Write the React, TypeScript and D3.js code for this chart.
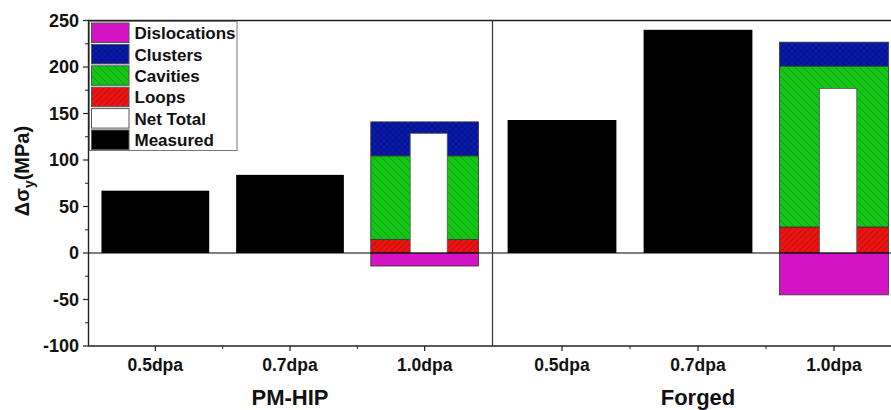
import React from "react";
import * as d3 from "d3";

const groupNames = ["PM-HIP", "Forged"];
const dpaLabels = ["0.5dpa", "0.7dpa", "1.0dpa"];
const measuredPMHIP = [67, 84];
const measuredForged = [143, 240];
// contributions at 1.0dpa: [PM-HIP, Forged]
const loops = [14.5, 28];
const cavities = [90, 173];
const clusters = [36.5, 25.7];
const dislocations = [-14, -45];
const netTotal = [128.7, 177];
const yTicks = [-100, -50, 0, 50, 100, 150, 200, 250];
const legendItems = ["Dislocations", "Clusters", "Cavities", "Loops", "Net Total", "Measured"];

const W = 891, H = 410;
const FONT = "'Liberation Sans', Arial, sans-serif";

export default function App() {
  const y = d3.scaleLinear().domain([-100, 250]).range([346, 20.5]);
  const xs = [
    d3.scaleLinear().domain([0.5, 3.5]).range([88, 492]),
    d3.scaleLinear().domain([0.5, 3.5]).range([494, 902]),
  ];
  const measured = [measuredPMHIP, measuredForged];
  const fills: Record<string, string> = {
    Dislocations: "url(#pDis)",
    Clusters: "url(#pClu)",
    Cavities: "url(#pCav)",
    Loops: "url(#pLoop)",
    "Net Total": "#ffffff",
    Measured: "#000000",
  };
  const bw = 0.8;
  const nw = 0.275;
  const minorY = d3.range(-100, 251, 25).filter((v) => v % 50 !== 0);

  const bars: JSX.Element[] = [];
  groupNames.forEach((g, gi) => {
    const x = xs[gi];
    measured[gi].forEach((v, i) => {
      const c = i + 1;
      bars.push(
        <rect key={`m${gi}${i}`} x={x(c - bw / 2)} y={y(v)} width={x(c + bw / 2) - x(c - bw / 2)} height={y(0) - y(v)} fill="#000" />
      );
    });
    const c = 3;
    const x0 = x(c - bw / 2), x1 = x(c + bw / 2);
    const segs: [string, number, number][] = [
      ["Loops", 0, loops[gi]],
      ["Cavities", loops[gi], loops[gi] + cavities[gi]],
      ["Clusters", loops[gi] + cavities[gi], loops[gi] + cavities[gi] + clusters[gi]],
      ["Dislocations", dislocations[gi], 0],
    ];
    segs.forEach(([name, a, b]) => {
      bars.push(
        <rect key={`s${gi}${name}`} x={x0} y={y(b)} width={x1 - x0} height={y(a) - y(b)} fill={fills[name]} stroke="#333" strokeWidth={0.8} />
      );
    });
    const nc = c + 0.03;
    bars.push(
      <rect key={`n${gi}`} x={x(nc - nw / 2)} y={y(netTotal[gi])} width={x(nc + nw / 2) - x(nc - nw / 2)} height={y(0) - y(netTotal[gi])} fill="#fff" stroke="#555" strokeWidth={0.8} />
    );
  });

  return (
    <svg width={W} height={H} style={{ position: "absolute", left: 0, top: 0, background: "#fff" }} fontFamily={FONT}>
      <defs>
        <pattern id="pDis" width="6" height="6" patternUnits="userSpaceOnUse">
          <rect width="6" height="6" fill="#d414c4" />
        </pattern>
        <pattern id="pClu" width="6" height="6" patternUnits="userSpaceOnUse">
          <rect width="6" height="6" fill="#0a1aa8" />
          <path d="M0,0 L6,6 M6,0 L0,6" stroke="#06107a" strokeWidth="0.7" />
        </pattern>
        <pattern id="pCav" width="8" height="8" patternUnits="userSpaceOnUse">
          <rect width="8" height="8" fill="#14c416" />
          <path d="M0,0 L8,8 M-1,7 L1,9 M7,-1 L9,1" stroke="#0c900e" strokeWidth="0.7" />
        </pattern>
        <pattern id="pLoop" width="6" height="6" patternUnits="userSpaceOnUse">
          <rect width="6" height="6" fill="#e81414" />
          <path d="M0,6 L6,0 M-1,1 L1,-1 M5,7 L7,5" stroke="#b00a0a" strokeWidth="0.7" />
        </pattern>
      </defs>

      {bars}

      {/* zero line */}
      <line x1={88} x2={W} y1={y(0)} y2={y(0)} stroke="#000" strokeWidth={1.2} />

      {/* frame */}
      <line x1={88} x2={W} y1={y(250)} y2={y(250)} stroke="#222" strokeWidth={1.6} />
      <line x1={88} x2={W} y1={y(-100)} y2={y(-100)} stroke="#222" strokeWidth={1.6} />
      <line x1={88.5} x2={88.5} y1={y(250)} y2={y(-100)} stroke="#222" strokeWidth={1.4} />
      <line x1={492.5} x2={492.5} y1={y(250)} y2={y(-100)} stroke="#333" strokeWidth={1.2} />

      {/* y ticks */}
      {yTicks.map((t) => (
        <g key={`yt${t}`}>
          <line x1={83} x2={88} y1={y(t)} y2={y(t)} stroke="#222" strokeWidth={1.2} />
          <text x={79} y={y(t)} dy="0.36em" textAnchor="end" fontSize={18} fontWeight="bold" fill="#111">{t}</text>
        </g>
      ))}
      {minorY.map((t) => (
        <line key={`ym${t}`} x1={85} x2={88} y1={y(t)} y2={y(t)} stroke="#222" strokeWidth={1} />
      ))}

      {/* x ticks and labels */}
      {groupNames.map((g, gi) => {
        const x = xs[gi];
        return (
          <g key={`xg${gi}`}>
            {dpaLabels.map((lab, i) => (
              <g key={lab}>
                <line x1={x(i + 1)} x2={x(i + 1)} y1={346} y2={351} stroke="#222" strokeWidth={1.2} />
                <text x={x(i + 1)} y={371} textAnchor="middle" fontSize={17.5} fontWeight="bold" fill="#111">{lab}</text>
              </g>
            ))}
            {[1.5, 2.5].map((m) => (
              <line key={`xm${m}`} x1={x(m)} x2={x(m)} y1={346} y2={349} stroke="#222" strokeWidth={1} />
            ))}
            <text x={x(2)} y={405} textAnchor="middle" fontSize={22} fontWeight="bold" fill="#111">{g}</text>
          </g>
        );
      })}

      {/* y label */}
      <text transform="translate(29,171) rotate(-90)" textAnchor="middle" fontSize={20} fontWeight="bold" fill="#111">
        Δσ<tspan fontSize={14} dy={5}>y</tspan><tspan dy={-5}>(MPa)</tspan>
      </text>

      {/* legend */}
      <rect x={89.5} y={21.5} width={147.5} height={129} fill="#fff" stroke="#777" strokeWidth={1} />
      {legendItems.map((name, i) => {
        const ry = 23 + i * 21.4;
        return (
          <g key={name}>
            <rect x={91.5} y={ry} width={37.5} height={19.5} fill={fills[name]} stroke="#555" strokeWidth={1} />
            <text x={134.5} y={ry + 10} dy="0.36em" fontSize={17} fontWeight="bold" fill="#111">{name}</text>
          </g>
        );
      })}
    </svg>
  );
}
